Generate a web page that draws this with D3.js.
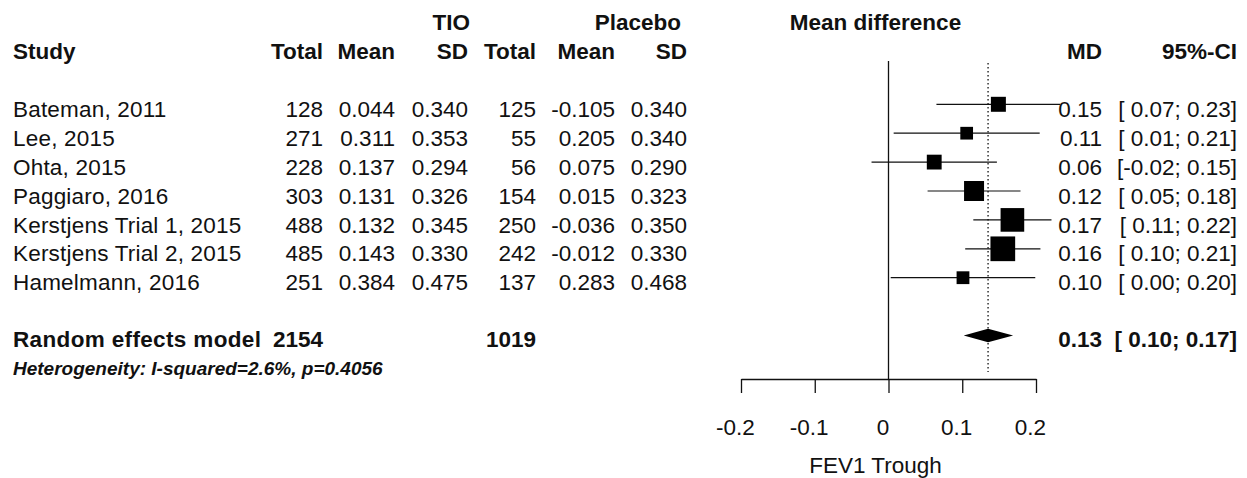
<!DOCTYPE html>
<html>
<head>
<meta charset="utf-8">
<script src="https://cdn.jsdelivr.net/npm/d3@7"></script>
<style>
  html, body { margin: 0; padding: 0; background: #fff; }
  svg { display: block; }
  text { font-family: "Liberation Sans", Arial, Helvetica, sans-serif; fill: #111; }
</style>
</head>
<body>
<svg id="chart" width="1247" height="478"></svg>
<script>
// ---------------- data ----------------
const studies = ["Bateman, 2011", "Lee, 2015", "Ohta, 2015", "Paggiaro, 2016",
  "Kerstjens Trial 1, 2015", "Kerstjens Trial 2, 2015", "Hamelmann, 2016"];
const tioTotal = [128, 271, 228, 303, 488, 485, 251];
const tioMean = ["0.044", "0.311", "0.137", "0.131", "0.132", "0.143", "0.384"];
const tioSD = ["0.340", "0.353", "0.294", "0.326", "0.345", "0.330", "0.475"];
const plaTotal = [125, 55, 56, 154, 250, 242, 137];
const plaMean = ["-0.105", "0.205", "0.075", "0.015", "-0.036", "-0.012", "0.283"];
const plaSD = ["0.340", "0.340", "0.290", "0.323", "0.350", "0.330", "0.468"];
const md = [0.149, 0.106, 0.062, 0.116, 0.168, 0.155, 0.101];
const ciLow = [0.065, 0.007, -0.023, 0.053, 0.115, 0.104, 0.003];
const ciHigh = [0.233, 0.205, 0.147, 0.179, 0.221, 0.206, 0.199];
const weights = [9.6, 6.9, 9.4, 17.1, 23.9, 26.1, 7.0];
const mdLabels = ["0.15", "0.11", "0.06", "0.12", "0.17", "0.16", "0.10"];
const ciLabels = ["[ 0.07; 0.23]", "[ 0.01; 0.21]", "[-0.02; 0.15]", "[ 0.05; 0.18]",
  "[ 0.11; 0.22]", "[ 0.10; 0.21]", "[ 0.00; 0.20]"];
const summaryMD = 0.135;
const summaryLow = 0.102;
const summaryHigh = 0.169;
const summaryLabel = "0.13";
const summaryCI = "[ 0.10; 0.17]";
const summaryTotals = [2154, 1019];
const heterogeneity = "Heterogeneity: I-squared=2.6%, p=0.4056";
const tickValues = [-0.2, -0.1, 0, 0.1, 0.2];
const tickLabels = ["-0.2", "-0.1", "0", "0.1", "0.2"];
const xLabel = "FEV1 Trough";
const plotTitle = "Mean difference";

// ---------------- layout ----------------
const FS = 22.5;
const svg = d3.select("#chart");
const x = d3.scaleLinear().domain([-0.2, 0.2]).range([741, 1036]);
const y = d3.scaleLinear().domain([0, 1]).range([104.3, 133.2]); // row index -> centre
const size = d3.scaleSqrt().domain([0, d3.max(weights)]).range([0, 24.7]);
const textOff = 12.6;
const axisY = 379;

function txt(g, xp, yp, s, anchor, weight, style, fs) {
  return g.append("text").attr("x", xp).attr("y", yp)
    .attr("text-anchor", anchor || "start")
    .attr("font-weight", weight || "normal")
    .attr("font-style", style || "normal")
    .attr("font-size", fs || FS)
    .text(s);
}

// headers
const hdr = svg.append("g");
txt(hdr, 470, 29.5, "TIO", "end", "bold");
txt(hdr, 681, 29.5, "Placebo", "end", "bold");
txt(hdr, x(0) - 13, 29.5, plotTitle, "middle", "bold");
txt(hdr, 13, 58.5, "Study", "start", "bold");
const colRight = [323, 395, 468, 536, 615, 687];
["Total", "Mean", "SD", "Total", "Mean", "SD"].forEach((h, i) => txt(hdr, colRight[i], 58.5, h, "end", "bold"));
txt(hdr, 1102, 58.5, "MD", "end", "bold");
txt(hdr, 1237, 58.5, "95%-CI", "end", "bold");

// table rows
const tbl = svg.append("g");
studies.forEach((s, i) => {
  const by = y(i) + textOff;
  txt(tbl, 13, by, s).attr("letter-spacing", 0.2);
  txt(tbl, colRight[0], by, tioTotal[i], "end");
  txt(tbl, colRight[1], by, tioMean[i], "end");
  txt(tbl, colRight[2], by, tioSD[i], "end");
  txt(tbl, colRight[3], by, plaTotal[i], "end");
  txt(tbl, colRight[4], by, plaMean[i], "end");
  txt(tbl, colRight[5], by, plaSD[i], "end");
  txt(tbl, 1102, by, mdLabels[i], "end");
  txt(tbl, 1237, by, ciLabels[i], "end");
});

// summary row
const sy = y(8);
txt(tbl, 13, sy + 11, "Random effects model", "start", "bold").attr("letter-spacing", 0.35);
txt(tbl, colRight[0], sy + 11, summaryTotals[0], "end", "bold");
txt(tbl, colRight[3], sy + 11, summaryTotals[1], "end", "bold");
txt(tbl, 1102, sy + 11, summaryLabel, "end", "bold");
txt(tbl, 1237, sy + 11, summaryCI, "end", "bold");
txt(tbl, 13, y(9) + 10.3, heterogeneity, "start", "bold", "italic", 19);

// forest plot
const plot = svg.append("g");
// zero line
plot.append("line").attr("x1", x(0)).attr("x2", x(0)).attr("y1", 61).attr("y2", axisY)
  .attr("stroke", "#111").attr("stroke-width", 1.3);
// summary dotted line
plot.append("line").attr("x1", x(summaryMD)).attr("x2", x(summaryMD)).attr("y1", 63).attr("y2", 372)
  .attr("stroke", "#111").attr("stroke-width", 1.3).attr("stroke-dasharray", "1.5,2.5");

// CI lines
plot.selectAll("line.ci").data(md).enter().append("line").attr("class", "ci")
  .attr("x1", (d, i) => x(ciLow[i])).attr("x2", (d, i) => x(ciHigh[i]))
  .attr("y1", (d, i) => y(i)).attr("y2", (d, i) => y(i))
  .attr("stroke", "#111").attr("stroke-width", 1.2);
// squares
plot.selectAll("rect.sq").data(md).enter().append("rect").attr("class", "sq")
  .attr("x", (d, i) => x(d) - size(weights[i]) / 2)
  .attr("y", (d, i) => y(i) - size(weights[i]) / 2)
  .attr("width", (d, i) => size(weights[i]))
  .attr("height", (d, i) => size(weights[i]))
  .attr("fill", "#000");
// diamond
const dh = 6.8;
plot.append("path")
  .attr("d", `M${x(summaryLow)},${sy} L${x(summaryMD)},${sy - dh} L${x(summaryHigh)},${sy} L${x(summaryMD)},${sy + dh} Z`)
  .attr("fill", "#000");

// axis
const axis = d3.axisBottom(x).tickValues(tickValues)
  .tickFormat((d, i) => tickLabels[i]).tickSize(14).tickSizeOuter(0).tickPadding(26);
const ag = svg.append("g").attr("transform", `translate(0,${axisY})`).call(axis);
ag.select(".domain").attr("stroke", "#111").attr("stroke-width", 1.3);
ag.selectAll(".tick line").attr("stroke", "#111").attr("stroke-width", 1.3);
ag.selectAll(".tick text").attr("font-size", FS).attr("fill", "#111").attr("dx", -6)
  .attr("font-family", '"Liberation Sans", Arial, Helvetica, sans-serif');
txt(svg, x(0) - 13, 473, xLabel, "middle");
</script>
</body>
</html>
